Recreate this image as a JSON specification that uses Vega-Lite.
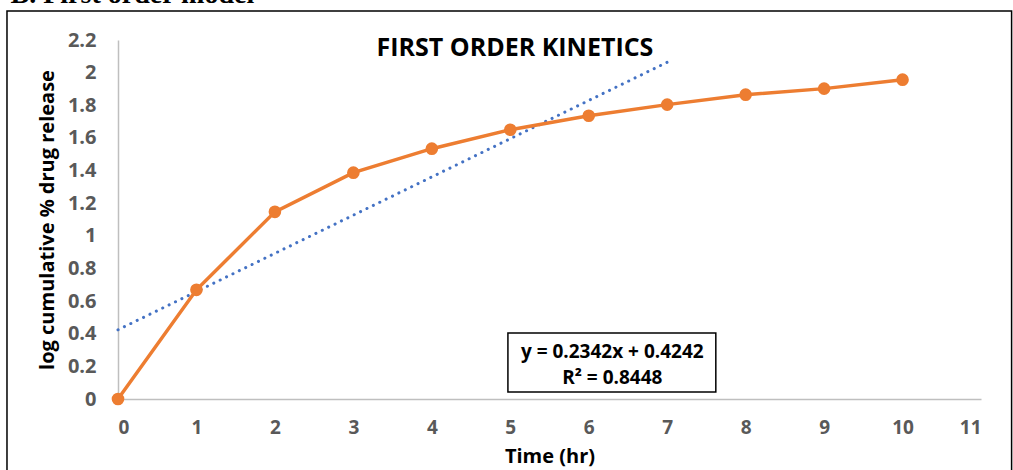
{
  "$schema": "https://vega.github.io/schema/vega-lite/v6.json",
  "width": 863,
  "height": 359,
  "autosize": {"type": "none"},
  "padding": {"left": 118, "top": 40, "right": 32, "bottom": 71},
  "background": "white",
  "resolve": {"axis": {"x": "independent", "y": "independent"}},
  "config": {
    "view": {"stroke": null},
    "axis": {
      "labelOverlap": false,
      "grid": false,
      "ticks": false,
      "domainColor": "#bfbfbf",
      "domainWidth": 1.5,
      "labelFont": "Open Sans",
      "labelFontWeight": "bold",
      "labelColor": "#595959",
      "titleFont": "Open Sans",
      "titleFontSize": 20,
      "titleFontWeight": "bold",
      "titleColor": "#000000"
    }
  },
  "datasets": {
    "release": [
      {"time": 0, "logRelease": 0},
      {"time": 1, "logRelease": 0.669},
      {"time": 2, "logRelease": 1.147},
      {"time": 3, "logRelease": 1.387},
      {"time": 4, "logRelease": 1.534},
      {"time": 5, "logRelease": 1.650},
      {"time": 6, "logRelease": 1.736},
      {"time": 7, "logRelease": 1.804},
      {"time": 8, "logRelease": 1.865},
      {"time": 9, "logRelease": 1.902},
      {"time": 10, "logRelease": 1.957}
    ],
    "trend": [
      {"time": 0, "logRelease": 0.4242},
      {"time": 7, "logRelease": 2.0636}
    ],
    "single": [{}]
  },
  "layer": [
    {
      "data": {"name": "trend"},
      "mark": {"type": "line", "color": "#4472C4", "strokeWidth": 3, "strokeDash": [0.1, 7], "strokeCap": "round", "clip": false},
      "encoding": {
        "x": {
          "field": "time",
          "type": "quantitative",
          "scale": {"domain": [0, 11], "nice": false, "zero": false},
          "axis": {
            "title": "Time (hr)",
            "values": [0, 1, 2, 3, 4, 5, 6, 7, 8, 9, 10, 11],
            "format": "d",
            "labelOverlap": false,
            "labelFontSize": 19,
            "labelPadding": 19,
            "titlePadding": 9
          }
        },
        "y": {
          "field": "logRelease",
          "type": "quantitative",
          "scale": {"domain": [0, 2.2], "nice": false, "zero": false},
          "axis": {
            "title": "log cumulative % drug release",
            "values": [0, 0.2, 0.4, 0.6, 0.8, 1, 1.2, 1.4, 1.6, 1.8, 2, 2.2],
            "format": ".1~f",
            "labelOverlap": false,
            "labelSeparation": 0,
            "labelFontSize": 20,
            "labelPadding": 22,
            "titlePadding": 10
          }
        }
      }
    },
    {
      "data": {"name": "single"},
      "mark": {"type": "rect", "fill": null, "stroke": "#000000", "strokeWidth": 1.5, "clip": false},
      "encoding": {
        "x": {"datum": -1.415, "type": "quantitative", "axis": null},
        "x2": {"datum": 11.39},
        "y": {"datum": 2.377, "type": "quantitative", "axis": null},
        "y2": {"datum": -0.6}
      }
    },
    {
      "data": {"name": "single"},
      "mark": {"type": "text", "font": "Liberation Serif", "fontSize": 28, "fontWeight": "bold", "align": "left", "baseline": "alphabetic", "clip": false, "color": "#000000"},
      "encoding": {
        "x": {"datum": -1.37, "type": "quantitative", "axis": null},
        "y": {"datum": 2.424, "type": "quantitative", "axis": null},
        "text": {"value": "B.  First order model"}
      }
    },
    {
      "data": {"name": "single"},
      "mark": {"type": "text", "font": "Open Sans", "fontSize": 25, "fontWeight": "bold", "align": "center", "baseline": "middle", "clip": false, "color": "#000000"},
      "encoding": {
        "x": {"datum": 5.06, "type": "quantitative", "axis": null},
        "y": {"datum": 2.15, "type": "quantitative", "axis": null},
        "text": {"value": "FIRST ORDER KINETICS"}
      }
    },
    {
      "data": {"name": "release"},
      "mark": {"type": "line", "color": "#ED7D31", "strokeWidth": 3.5, "clip": false},
      "encoding": {
        "x": {"field": "time", "type": "quantitative", "axis": null},
        "y": {"field": "logRelease", "type": "quantitative", "axis": null}
      }
    },
    {
      "data": {"name": "release"},
      "mark": {"type": "point", "filled": true, "color": "#ED7D31", "opacity": 1, "size": 160, "clip": false},
      "encoding": {
        "x": {"field": "time", "type": "quantitative", "axis": null},
        "y": {"field": "logRelease", "type": "quantitative", "axis": null}
      }
    },
    {
      "data": {"name": "single"},
      "mark": {"type": "rect", "fill": "#ffffff", "stroke": "#000000", "strokeWidth": 1.5},
      "encoding": {
        "x": {"datum": 4.97, "type": "quantitative", "axis": null},
        "x2": {"datum": 7.62},
        "y": {"datum": 0.404, "type": "quantitative", "axis": null},
        "y2": {"datum": 0.043}
      }
    },
    {
      "data": {"name": "single"},
      "mark": {"type": "text", "font": "Open Sans", "fontSize": 19, "fontWeight": "bold", "align": "center", "baseline": "middle", "color": "#000000"},
      "encoding": {
        "x": {"datum": 6.3, "type": "quantitative", "axis": null},
        "y": {"datum": 0.288, "type": "quantitative", "axis": null},
        "text": {"value": "y = 0.2342x + 0.4242"}
      }
    },
    {
      "data": {"name": "single"},
      "mark": {"type": "text", "font": "Open Sans", "fontSize": 19, "fontWeight": "bold", "align": "center", "baseline": "middle", "color": "#000000"},
      "encoding": {
        "x": {"datum": 6.3, "type": "quantitative", "axis": null},
        "y": {"datum": 0.129, "type": "quantitative", "axis": null},
        "text": {"value": "R² = 0.8448"}
      }
    }
  ]
}
